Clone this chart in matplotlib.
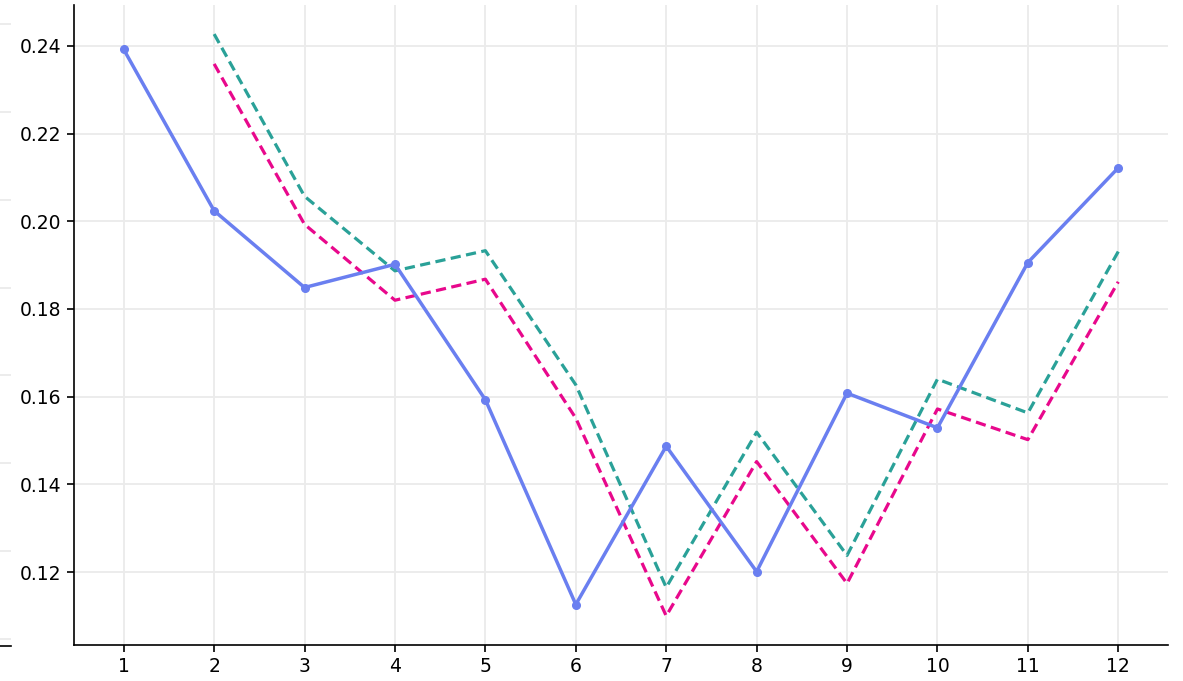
import matplotlib
matplotlib.use("Agg")
import matplotlib.pyplot as plt

# Monthly values for the observed series and the two model runs
months = [1, 2, 3, 4, 5, 6, 7, 8, 9, 10, 11, 12]
observed = [0.2392, 0.2024, 0.1849, 0.1902, 0.1593, 0.1126,
            0.1487, 0.1201, 0.1608, 0.1529, 0.1906, 0.2122]

model_months = [2, 3, 4, 5, 6, 7, 8, 9, 10, 11, 12]
model_upper = [0.2427, 0.2057, 0.1887, 0.1933, 0.1627, 0.1165,
               0.1519, 0.1238, 0.1640, 0.1563, 0.1931]
model_lower = [0.2359, 0.1993, 0.1820, 0.1868, 0.1551, 0.1100,
               0.1452, 0.1174, 0.1572, 0.1502, 0.1862]

y_ticks = [0.12, 0.14, 0.16, 0.18, 0.20, 0.22, 0.24]
y_tick_labels = ["0.12", "0.14", "0.16", "0.18", "0.20", "0.22", "0.24"]

BLUE = "#6a7ff0"
TEAL = "#2aa198"
PINK = "#e8088c"
GRID = "#ebebeb"

W, H = 1183, 681
fig = plt.figure(figsize=(W / 100, H / 100), dpi=100)

left, right, top, bottom = 74, 1168, 5, 645
ax = fig.add_axes([left / W, 1 - bottom / H, (right - left) / W, (bottom - top) / H])

ax.plot(months, observed, color=BLUE, lw=2.5, marker="o", ms=5.5, zorder=3,
        solid_joinstyle="round")
ax.plot(model_months, model_upper, color=TEAL, lw=2.3, ls=(0, (3.2, 1.7)), zorder=2)
ax.plot(model_months, model_lower, color=PINK, lw=2.3, ls=(0, (3.2, 1.7)), zorder=2)

ax.set_xticks(months)
ax.set_xticklabels([str(m) for m in months])
ax.set_yticks(y_ticks)
ax.set_yticklabels(y_tick_labels)

ax.grid(True, color=GRID, lw=1.3, zorder=0)
ax.set_axisbelow(True)
for side in ("top", "right"):
    ax.spines[side].set_visible(False)
for side in ("left", "bottom"):
    ax.spines[side].set_linewidth(1.2)
    ax.spines[side].set_color("black")
ax.tick_params(axis="both", direction="out", length=5, width=1.2,
               labelsize=13.5, colors="black", pad=4)

# Edge of the neighbouring panel on the left
lo, hi = ax.get_ylim()
shift = 0.0050
stub = fig.add_axes([-60 / W, 1 - 646 / H, 71 / W, (646 - top) / H])
stub.set_yticks(y_ticks + [0.10, 0.26])
stub.set_ylim(lo - shift, hi - shift)
stub.grid(True, axis="y", color=GRID, lw=1.3)
stub.tick_params(length=0, labelleft=False, labelbottom=False)
stub.set_xticks([])
for side in ("top", "right", "left"):
    stub.spines[side].set_visible(False)
stub.spines["bottom"].set_linewidth(1.2)
stub.spines["bottom"].set_color("black")

fig.savefig("out.png", dpi=100)
